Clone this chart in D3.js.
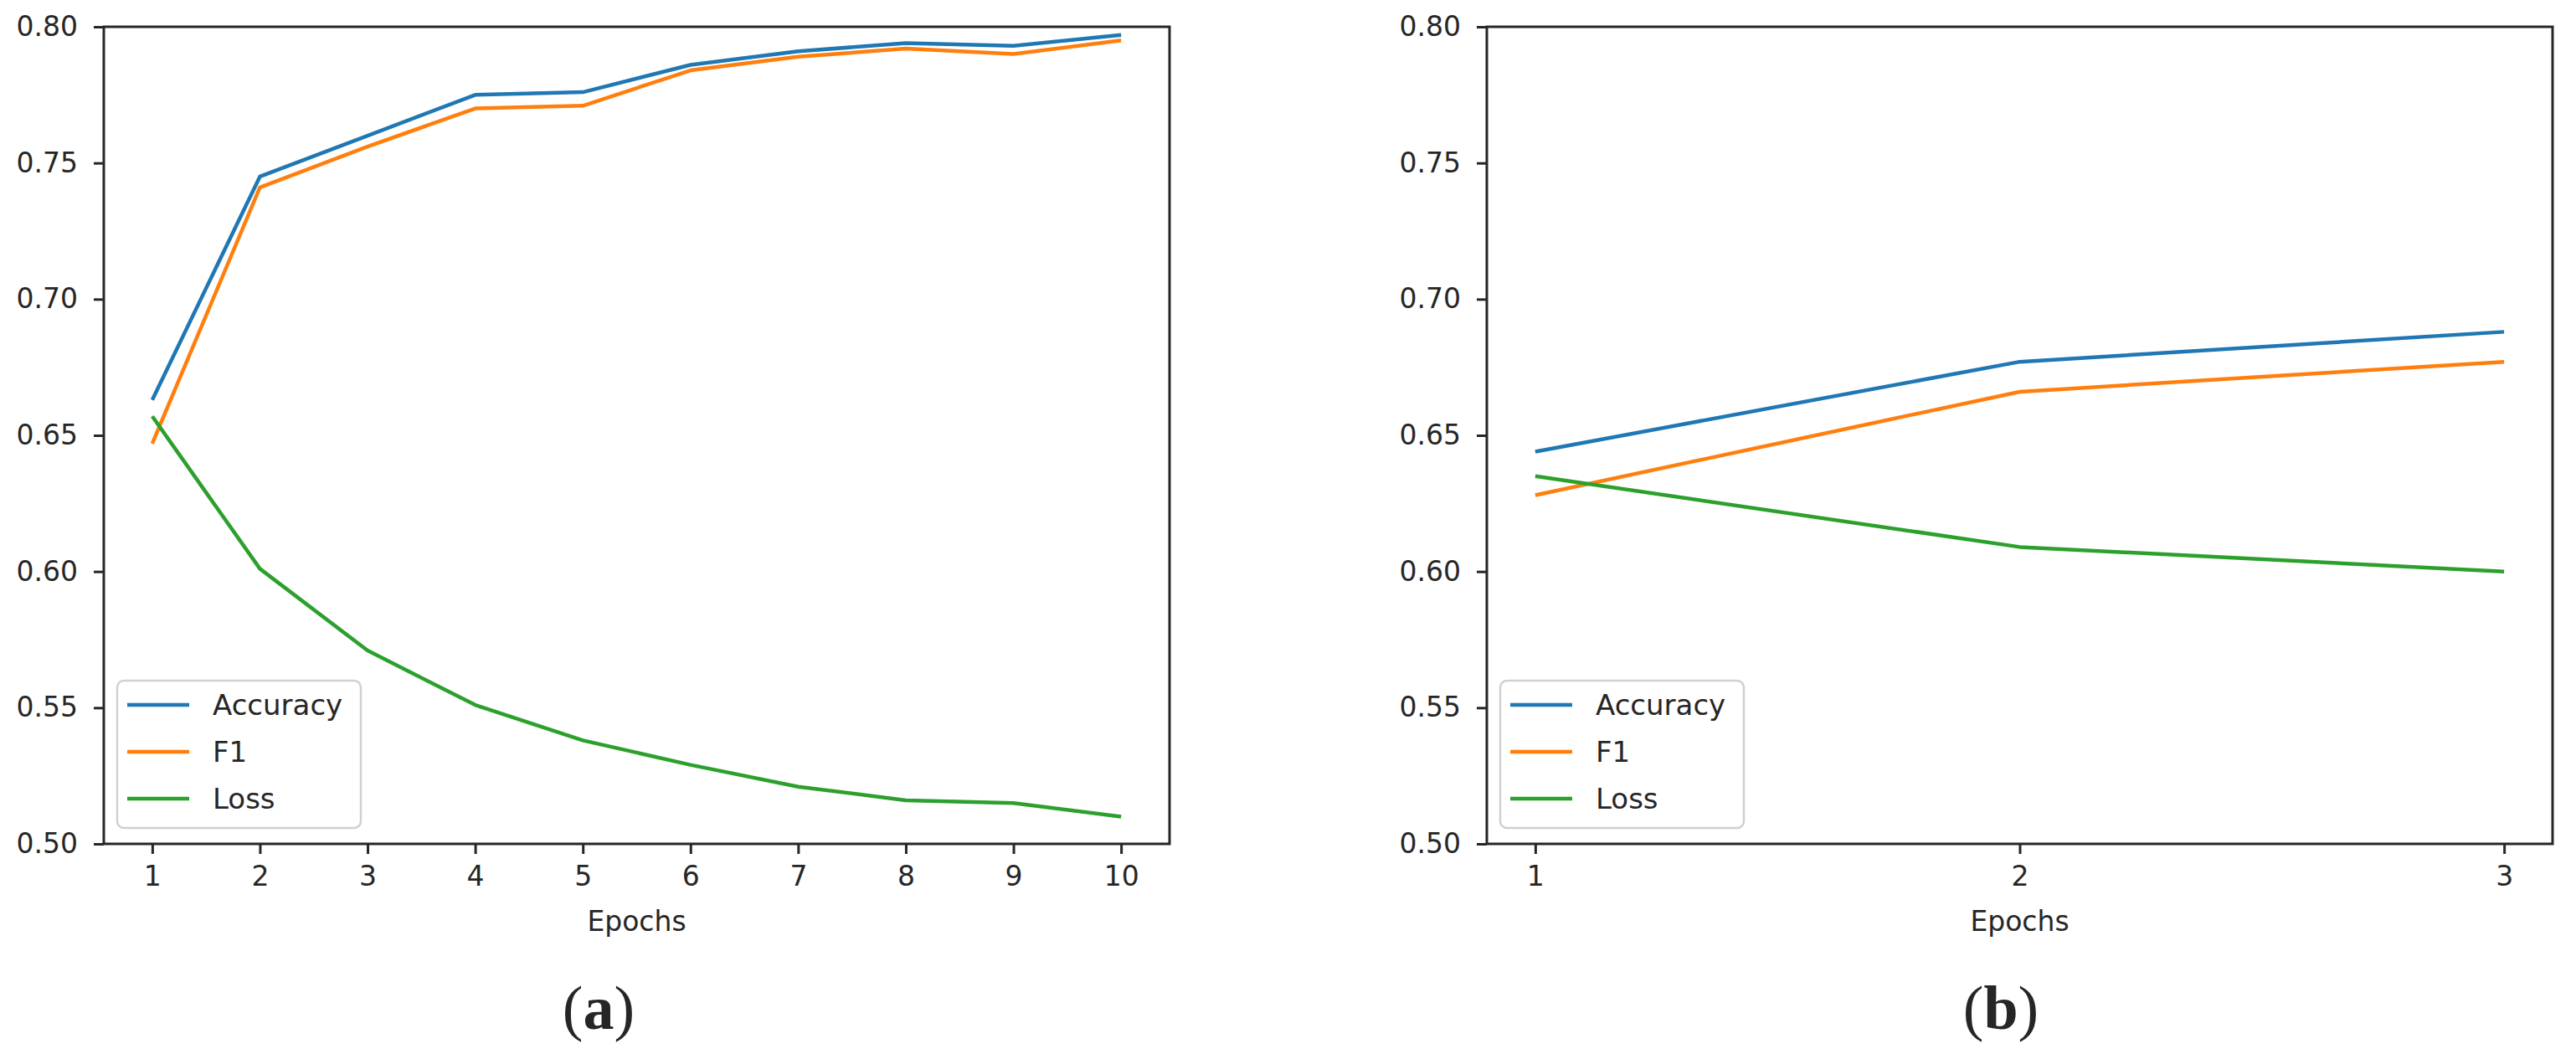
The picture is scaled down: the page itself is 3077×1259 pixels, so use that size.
<!DOCTYPE html>
<html>
<head>
<meta charset="utf-8">
<script src="https://cdn.jsdelivr.net/npm/d3@7"></script>
<style>
  body { margin: 0; background: #fff; }
  text { font-family: "DejaVu Sans", sans-serif; fill: #262626; }
</style>
</head>
<body>
<svg id="fig" width="3077" height="1259"></svg>
<script>
// data
var seriesNames = ["Accuracy", "F1", "Loss"];
var seriesColors = ["#1f77b4", "#ff7f0e", "#2ca02c"];
var yTicks = [0.50, 0.55, 0.60, 0.65, 0.70, 0.75, 0.80];

var epochsA = [1, 2, 3, 4, 5, 6, 7, 8, 9, 10];
var accA  = [0.663, 0.745, 0.760, 0.775, 0.776, 0.786, 0.791, 0.794, 0.793, 0.797];
var f1A   = [0.647, 0.741, 0.756, 0.770, 0.771, 0.784, 0.789, 0.792, 0.790, 0.795];
var lossA = [0.657, 0.601, 0.571, 0.551, 0.538, 0.529, 0.521, 0.516, 0.515, 0.510];

var epochsB = [1, 2, 3];
var accB  = [0.644, 0.677, 0.688];
var f1B   = [0.628, 0.666, 0.677];
var lossB = [0.635, 0.609, 0.600];

var svg = d3.select("#fig");

function panel(left, right, epochs, series, tag, tagX) {
    var top = 32, bottom = 1008;
    var n = epochs.length;
    var span = (epochs[n-1] - epochs[0]) * 0.05;   // matplotlib style margins
    var x = d3.scaleLinear()
        .domain([epochs[0] - span, epochs[n-1] + span])
        .range([left, right]);
    var y = d3.scaleLinear().domain([0.5, 0.8]).range([bottom, top]);

    var g = svg.append("g");

    // axes
    var xa = g.append("g")
        .attr("transform", "translate(0," + bottom + ")")
        .call(d3.axisBottom(x).tickValues(epochs).tickFormat(d3.format("d"))
              .tickSize(12).tickPadding(15).tickSizeOuter(0));
    var ya = g.append("g")
        .attr("transform", "translate(" + left + ",0)")
        .call(d3.axisLeft(y).tickValues(yTicks).tickFormat(d3.format(".2f"))
              .tickSize(12).tickPadding(19).tickSizeOuter(0));
    [xa, ya].forEach(function(a) {
        a.select(".domain").remove();
        a.selectAll(".tick line").attr("stroke", "#262626").attr("stroke-width", 3);
        a.selectAll(".tick text").style("font-size", "33px").attr("fill", "#262626");
    });

    // lines
    var line = d3.line()
        .x(function(d, i) { return x(epochs[i]); })
        .y(function(d) { return y(d); });
    series.forEach(function(s, k) {
        g.append("path")
            .datum(s)
            .attr("d", line)
            .attr("fill", "none")
            .attr("stroke", seriesColors[k])
            .attr("stroke-width", 4.5)
            .attr("stroke-linejoin", "round");
    });

    // frame
    g.append("rect")
        .attr("x", left).attr("y", top)
        .attr("width", right - left).attr("height", bottom - top)
        .attr("fill", "none").attr("stroke", "#262626").attr("stroke-width", 3);

    // legend
    var lg = g.append("g").attr("transform", "translate(" + (left + 16) + ",813)");
    lg.append("rect")
        .attr("width", 291).attr("height", 176).attr("rx", 8)
        .attr("fill", "#fff").attr("fill-opacity", 0.8)
        .attr("stroke", "#d0d0d0").attr("stroke-width", 2.5);
    seriesNames.forEach(function(name, k) {
        var yy = 29 + k * 56;
        lg.append("line")
            .attr("x1", 12).attr("x2", 86).attr("y1", yy).attr("y2", yy)
            .attr("stroke", seriesColors[k]).attr("stroke-width", 4.5);
        lg.append("text")
            .attr("x", 114).attr("y", yy).attr("dy", "0.36em")
            .style("font-size", "34px")
            .text(name);
    });

    // x label
    g.append("text")
        .attr("x", (left + right) / 2).attr("y", 1112)
        .attr("text-anchor", "middle")
        .style("font-size", "33px")
        .text("Epochs");

    // sub-caption
    var t = g.append("text")
        .attr("x", tagX).attr("y", 1229)
        .attr("text-anchor", "middle")
        .style("font-family", "'Liberation Serif', 'DejaVu Serif', serif")
        .style("font-size", "74px")
        .attr("fill", "#231f20");
    t.append("tspan").text("(");
    t.append("tspan").style("font-weight", "bold").text(tag);
    t.append("tspan").text(")");
}

panel(124, 1397, epochsA, [accA, f1A, lossA], "a", 715);
panel(1776, 3049, epochsB, [accB, f1B, lossB], "b", 2390);
</script>
</body>
</html>
